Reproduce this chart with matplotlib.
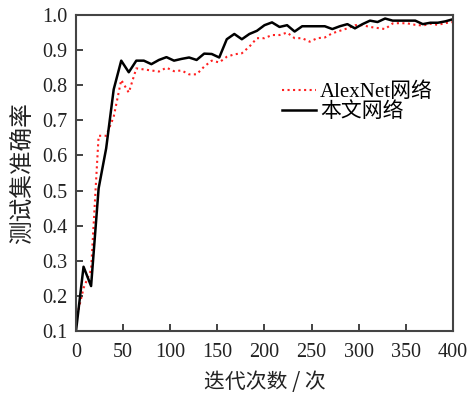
import matplotlib
matplotlib.use('Agg')
import matplotlib.pyplot as plt

plt.rcParams['font.family'] = ['Liberation Serif', 'Noto Sans CJK SC']

iters = list(range(0, 401, 8))
acc_alexnet = [0.13, 0.222, 0.274, 0.656, 0.656, 0.71, 0.815, 0.779, 0.848, 0.845,
               0.842, 0.839, 0.85, 0.84, 0.842, 0.831, 0.831, 0.853, 0.87, 0.865,
               0.881, 0.888, 0.891, 0.91, 0.934, 0.934, 0.943, 0.943, 0.95, 0.934,
               0.934, 0.924, 0.934, 0.936, 0.948, 0.955, 0.962, 0.971, 0.971, 0.966,
               0.963, 0.96, 0.976, 0.977, 0.976, 0.972, 0.97, 0.975, 0.972, 0.977,
               0.98]
acc_ours = [0.10, 0.283, 0.228, 0.506, 0.62, 0.788, 0.87, 0.837, 0.87, 0.87,
            0.86, 0.872, 0.88, 0.87, 0.875, 0.879, 0.872, 0.89, 0.889, 0.879,
            0.931, 0.946, 0.931, 0.946, 0.955, 0.971, 0.979, 0.966, 0.971, 0.953,
            0.968, 0.968, 0.968, 0.968, 0.96, 0.968, 0.974, 0.962, 0.974, 0.984,
            0.98, 0.99, 0.984, 0.984, 0.984, 0.984, 0.974, 0.978, 0.978, 0.982,
            0.988]
xticks = [0, 50, 100, 150, 200, 250, 300, 350, 400]
yticks = [0.1, 0.2, 0.3, 0.4, 0.5, 0.6, 0.7, 0.8, 0.9, 1.0]

fig = plt.figure(figsize=(4.7, 3.93), dpi=100)
ax = fig.add_axes([0.1617, 0.1578, 0.802, 0.804])

ax.plot(iters, acc_alexnet, color='#ff2020', linestyle=':', linewidth=1.5, label='AlexNet网络')
ax.plot(iters, acc_ours, color='black', linestyle='-', linewidth=1.8, label='本文网络')

ax.set_xlim(0, 400)
ax.set_ylim(0.1, 1.0)
ax.set_xticks(xticks)
ax.set_yticks(yticks)
ax.set_yticklabels(['%.1f' % v for v in yticks])
ax.tick_params(direction='in', length=5, width=1.2, labelsize=14.5, colors='#222222')
ax.tick_params(axis='x', pad=9)
ax.tick_params(axis='y', pad=6)
for s in ax.spines.values():
    s.set_linewidth(1.5)
    s.set_color('#444444')

ax.set_xlabel('迭代次数 / 次', fontsize=15, family=['Noto Sans CJK SC', 'Liberation Serif'],
              color='#222222', labelpad=6)
ax.set_ylabel('测试集准确率', fontsize=17, family=['Noto Sans CJK SC'], color='#222222', labelpad=6)

ax.legend(loc='upper left', bbox_to_anchor=(0.52, 0.82), frameon=False, fontsize=15,
          handlelength=1.6, handletextpad=0.2, labelspacing=0.0, borderpad=0)

fig.savefig('out.png', dpi=100)
